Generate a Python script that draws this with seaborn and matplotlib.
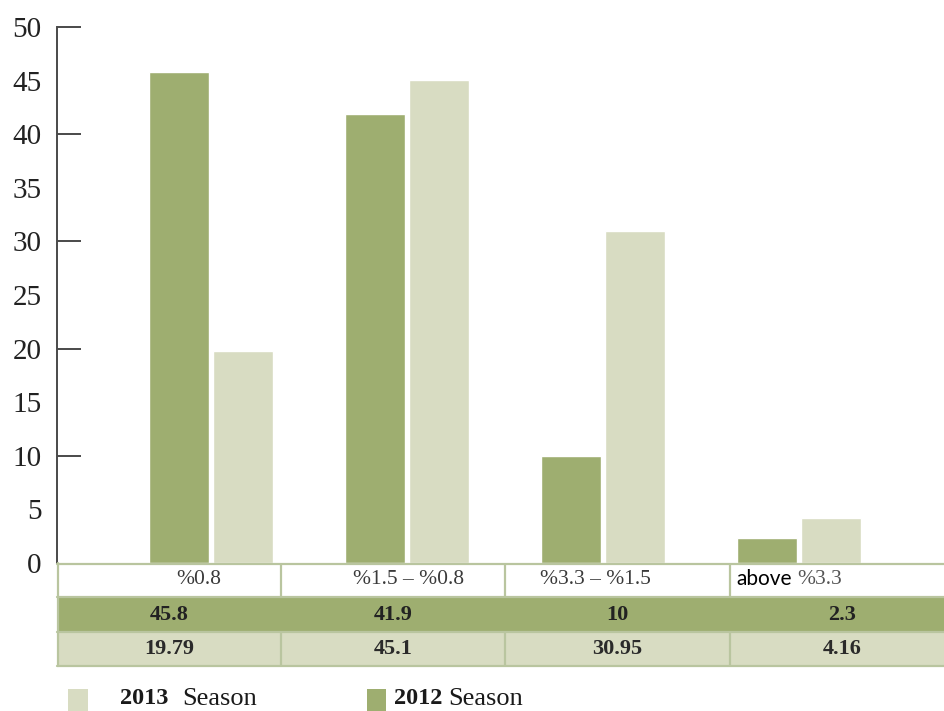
import matplotlib
matplotlib.use("Agg")
import matplotlib.pyplot as plt
from matplotlib.patches import Rectangle
from matplotlib.ticker import FixedLocator
import pandas as pd
import seaborn as sns

# Share of samples per range, by season
categories = ["%0.8", "%1.5 – %0.8", "%3.3 – %1.5", "above %3.3"]
season_2012 = [45.8, 41.9, 10, 2.3]
season_2013 = [19.79, 45.1, 30.95, 4.16]
value_labels_2012 = ["45.8", "41.9", "10", "2.3"]
value_labels_2013 = ["19.79", "45.1", "30.95", "4.16"]
series_names = ["2012 Season", "2013 Season"]

DARK = "#9eae70"
LIGHT = "#d8dcc2"
BORDER = "#b9c59f"
SERIF = ["Liberation Serif", "DejaVu Serif"]

df = pd.DataFrame({
    "category": categories * 2,
    "value": season_2012 + season_2013,
    "season": [series_names[0]] * 4 + [series_names[1]] * 4,
})

sns.set_theme(style="white")
plt.rcParams["font.family"] = SERIF

W, H = 944, 711
fig = plt.figure(figsize=(W / 100, H / 100), dpi=100)


def fx(px):
    return px / W


def fy(py):
    return 1 - py / H


ax = fig.add_axes([fx(57), fy(563), fx(944) - fx(57), fy(27) - fy(563)])
sns.barplot(data=df, x="category", y="value", hue="season",
            hue_order=series_names, palette=[DARK, LIGHT],
            width=0.65, gap=0.06, saturation=1, legend=False, ax=ax)

ax.set_xlim(-0.786, 3.74)
ax.set_ylim(0, 50)
ax.set_xlabel("")
ax.set_ylabel("")
ax.set_xticks([])
for s in ["top", "right", "bottom"]:
    ax.spines[s].set_visible(False)
ax.spines["left"].set_color("#4a4a4a")
ax.spines["left"].set_linewidth(1.4)

ax.yaxis.set_major_locator(FixedLocator([10, 20, 30, 40, 50]))
ax.yaxis.set_minor_locator(FixedLocator([0, 5, 15, 25, 35, 45]))
ax.yaxis.set_minor_formatter(plt.FuncFormatter(lambda v, p: f"{v:g}"))
ax.tick_params(axis="y", which="major", direction="in", length=17,
               width=1.4, color="#4a4a4a", pad=11, labelsize=21,
               labelcolor="#222222", left=True)
ax.tick_params(axis="y", which="minor", direction="in", length=0,
               pad=11, labelsize=21, labelcolor="#222222", left=True)

# Data table under the bars
tab = fig.add_axes([fx(57), fy(666), fx(944) - fx(57), fy(563) - fy(666)])
tab.set_xlim(57, 944)
tab.set_ylim(666, 563)
tab.axis("off")

rows = [(563, 597, "white"), (597, 632, DARK), (632, 666, LIGHT)]
for y0, y1, c in rows:
    tab.add_patch(Rectangle((57, y0), 900, y1 - y0, facecolor=c,
                            edgecolor="none", zorder=1))
for yl in [563.5, 597, 632, 665.5]:
    tab.plot([57, 944], [yl, yl], color=BORDER, lw=1.6, zorder=3,
             clip_on=False)
tab.plot([57.5, 57.5], [563, 666], color=BORDER, lw=1.6, zorder=3,
         clip_on=False)
for xb in [281, 505, 730]:
    tab.plot([xb, xb], [563, 597], color=BORDER, lw=1.6, zorder=3)
    tab.plot([xb, xb], [632, 666], color=BORDER, lw=1.6, zorder=3)

cat_x = [199, 409, 595]
for x, lab in zip(cat_x, categories[:3]):
    tab.text(x, 580, lab, ha="center", va="center", fontsize=15.5,
             color="#3a3a3a", family=SERIF)
above_word, above_range = categories[3].split(" ")
tab.text(736, 579, above_word, ha="left", va="center", fontsize=15,
         color="black", family=["Lato", "DejaVu Sans"])
tab.text(797, 580, above_range, ha="left", va="center", fontsize=15.5,
         color="#555555", family=SERIF)

col_x = [169, 393, 617.5, 842]
for x, l12, l13 in zip(col_x, value_labels_2012, value_labels_2013):
    tab.text(x, 614.5, l12, ha="center", va="center", fontsize=16,
             fontweight="bold", color="#222222", family=SERIF)
    tab.text(x, 649, l13, ha="center", va="center", fontsize=16,
             fontweight="bold", color="#2a2a2a", family=SERIF)

# Legend drawn along the bottom edge
fig.patches.append(Rectangle((fx(68), fy(711)), fx(20), fy(689) - fy(711),
                             transform=fig.transFigure, facecolor=LIGHT,
                             edgecolor="none"))
fig.patches.append(Rectangle((fx(367), fy(711)), fx(19), fy(689) - fy(711),
                             transform=fig.transFigure, facecolor=DARK,
                             edgecolor="none"))
y13, lbl13 = series_names[1].split(" ")
y12, lbl12 = series_names[0].split(" ")
fig.text(fx(120), fy(699), y13, ha="left", va="center", fontsize=17.5,
         fontweight="bold", color="#1a1a1a")
fig.text(fx(182), fy(699), lbl13, ha="left", va="center", fontsize=19,
         color="#1a1a1a")
fig.text(fx(394), fy(699), y12, ha="left", va="center", fontsize=17.5,
         fontweight="bold", color="#1a1a1a")
fig.text(fx(448), fy(699), lbl12, ha="left", va="center", fontsize=19,
         color="#1a1a1a")

fig.savefig("out.png", dpi=100, facecolor="white")
